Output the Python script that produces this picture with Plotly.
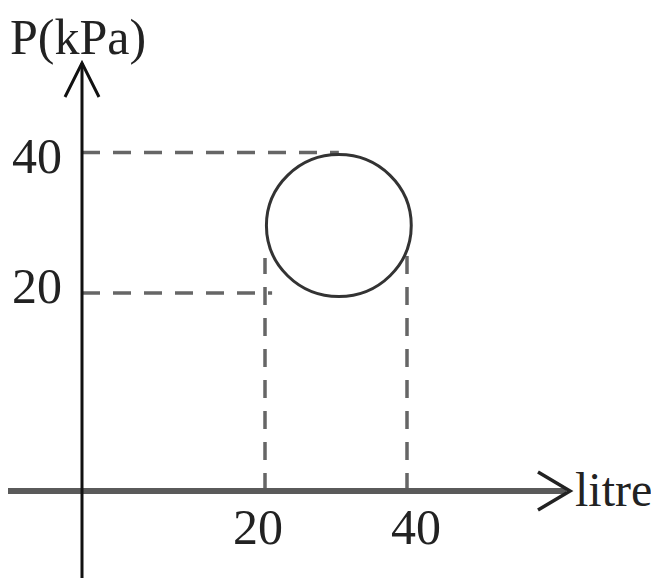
import plotly.graph_objects as go

# ---- data ----
volume_ticks = [20, 40]
volume_tick_labels = ["20", "40"]
pressure_ticks = [20, 40]
pressure_tick_labels = ["20", "40"]

cycle_center_v = 30.4
cycle_center_p = 29.6
cycle_radius_v = 10.2
cycle_radius_p = 10.1

# dashed guides: horizontal ones end at these volumes, vertical ones at these pressures
guide_h_end_v = [21.0, 30.4]     # for P = 20, 40
guide_v_end_p = [25.0, 26.0]     # for V = 20, 40

x_label = "litre"
y_label = "P(kPa)"

# ---- layout constants (schematic scale of the drawing) ----
PAGE_MARGIN = 8          # browser body margin
W, H = 659 - PAGE_MARGIN, 579 - PAGE_MARGIN
SX = 7.1     # px per litre
SY = 7.025   # px per kPa


def v_of(px):
    return 20 + (px - 265) / SX


def p_of(py):
    return 20 - (py - 293) / SY


axis_v = v_of(82)    # where the P axis is drawn
axis_p = p_of(491)   # where the V axis is drawn
x_label_nudge = [-7, 9]
y_label_nudge = [7, -3]

FONT = "Liberation Serif"
fig = go.Figure()

# dashed guide lines
dash_style = dict(color="#666666", width=3.5, dash="18px,13px")
for p, v_end in zip(pressure_ticks, guide_h_end_v):
    fig.add_trace(go.Scatter(x=[axis_v, v_end], y=[p, p], mode="lines",
                             line=dash_style, hoverinfo="skip", showlegend=False))
for v, p_end in zip(volume_ticks, guide_v_end_p):
    fig.add_trace(go.Scatter(x=[v, v], y=[axis_p, p_end], mode="lines",
                             line=dash_style, hoverinfo="skip", showlegend=False))

shapes = []
# cycle circle
shapes.append(dict(type="circle", xref="x", yref="y",
                   x0=cycle_center_v - cycle_radius_v, x1=cycle_center_v + cycle_radius_v,
                   y0=cycle_center_p - cycle_radius_p, y1=cycle_center_p + cycle_radius_p,
                   line=dict(color="#333333", width=3)))
# V axis (horizontal, thick gray)
shapes.append(dict(type="line", xref="x", yref="y", x0=v_of(8), x1=v_of(566),
                   y0=axis_p, y1=axis_p, line=dict(color="#5a5a5a", width=6)))
shapes.append(dict(type="path", xref="x", yref="y",
                   path=f"M {v_of(538)},{p_of(472)} L {v_of(570)},{axis_p} L {v_of(538)},{p_of(510)}",
                   line=dict(color="#222222", width=3.5)))
# P axis (vertical, black)
shapes.append(dict(type="line", xref="x", yref="y", x0=axis_v, x1=axis_v,
                   y0=p_of(578), y1=p_of(63), line=dict(color="#111111", width=3)))
shapes.append(dict(type="path", xref="x", yref="y",
                   path=f"M {v_of(65)},{p_of(97)} L {axis_v},{p_of(63)} L {v_of(99)},{p_of(97)}",
                   line=dict(color="#111111", width=3)))

annotations = []
for v, lab, dx in zip(volume_ticks, volume_tick_labels, x_label_nudge):
    annotations.append(dict(x=v, y=p_of(527), xref="x", yref="y", text=lab,
                            showarrow=False, xanchor="center", yanchor="middle", xshift=dx,
                            font=dict(family=FONT, size=50, color="#222222")))
for p, lab, dy in zip(pressure_ticks, pressure_tick_labels, y_label_nudge):
    annotations.append(dict(x=v_of(64), y=p, xref="x", yref="y", text=lab,
                            showarrow=False, xanchor="right", yanchor="middle", yshift=dy,
                            font=dict(family=FONT, size=50, color="#222222")))
annotations.append(dict(x=v_of(573), y=p_of(489), xref="x", yref="y", text=x_label,
                        showarrow=False, xanchor="left", yanchor="middle",
                        font=dict(family=FONT, size=48, color="#222222")))
annotations.append(dict(x=0, y=p_of(37), xref="paper", yref="y", text=y_label,
                        showarrow=False, xanchor="left", yanchor="middle",
                        font=dict(family=FONT, size=50, color="#222222")))

fig.update_layout(
    width=W, height=H,
    margin=dict(l=0, r=0, t=0, b=0),
    paper_bgcolor="white", plot_bgcolor="white",
    xaxis=dict(range=[v_of(PAGE_MARGIN), v_of(PAGE_MARGIN + W)], visible=False, fixedrange=True),
    yaxis=dict(range=[p_of(PAGE_MARGIN + H), p_of(PAGE_MARGIN)], visible=False, fixedrange=True),
    shapes=shapes, annotations=annotations,
    showlegend=False,
)

fig.write_html("out.html")
